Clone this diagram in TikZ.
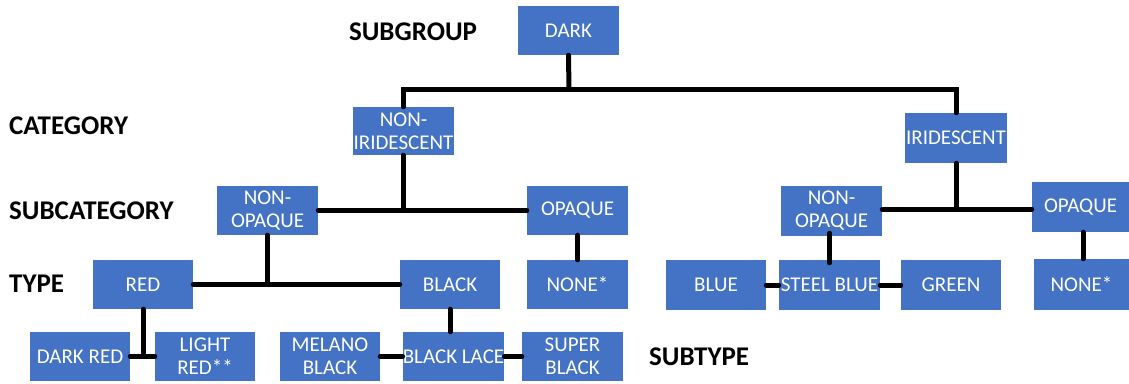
\documentclass[tikz,border=0pt]{standalone}
\usepackage{fontspec}
\setmainfont{Carlito}
\definecolor{boxblue}{HTML}{4472C4}
\begin{document}
\begin{tikzpicture}[x=1pt, y=-1pt,
  box/.style={fill=boxblue, text=white, inner sep=0pt, align=center,
    minimum width=101pt, minimum height=49pt,
    font=\fontsize{21}{23}\selectfont},
  level/.style={anchor=west, inner sep=0pt, font=\fontsize{27}{30}\selectfont\bfseries},
  link/.style={line width=5pt, line cap=round}]
\useasboundingbox (0,0) rectangle (1129,383);

% level labels
\node[level, anchor=center] (lsubgroup) at (413,32) {SUBGROUP};
\node[level] (lcategory) at (9,126) {CATEGORY};
\node[level] (lsubcategory) at (9,211) {SUBCATEGORY};
\node[level] (ltype) at (9,284) {TYPE};
\node[level] (lsubtype) at (649,357) {SUBTYPE};

% subgroup and categories
\node[box] (dark) at (568.5,30.5) {DARK};
\node[box, minimum height=48pt] (noniri) at (403.5,131) {NON-\\IRIDESCENT};
\node[box, minimum width=102pt, minimum height=50pt] (iri) at (956,138) {IRIDESCENT};

% subcategories
\node[box] (nop1) at (267.5,210.5) {NON-\\OPAQUE};
\node[box] (op1) at (577.5,210.5) {OPAQUE};
\node[box, minimum height=50pt] (nop2) at (831.5,211) {NON-\\OPAQUE};
\node[box, minimum width=97pt, minimum height=50pt] (op2) at (1080.5,207) {OPAQUE};

% types
\node[box, minimum width=100pt] (red) at (143,284.5) {RED};
\node[box, minimum width=100pt] (black) at (450,284.5) {BLACK};
\node[box] (none1) at (577.5,284.5) {NONE*};
\node[box, minimum width=100pt, minimum height=50pt] (blue) at (716,285) {BLUE};
\node[box, minimum height=50pt] (steel) at (829.5,285) {STEEL BLUE};
\node[box, minimum width=100pt, minimum height=50pt] (green) at (951,285) {GREEN};
\node[box, minimum width=95pt, minimum height=51pt] (none2) at (1081.5,284.5) {NONE*};

% subtypes
\node[box, minimum width=100pt] (dred) at (80,356.5) {DARK RED};
\node[box, minimum width=100pt] (lred) at (205,356.5) {LIGHT\\RED**};
\node[box, minimum width=100pt] (melano) at (330,356.5) {MELANO\\BLACK};
\node[box, minimum width=99pt] (blace) at (453.5,356.5) {BLACK LACE};
\node[box] (sblack) at (572.5,356.5) {SUPER\\BLACK};

% junction points
\coordinate (topbar) at (569,89);
\coordinate (iribar) at (956,209);

% connectors
\draw[link] (dark.south) -- (topbar);
\draw[link] (noniri.north) |- (topbar) -| (iri.north);

\draw[link] (noniri.south) -- (noniri.south |- nop1.east);
\draw[link] (nop1.east) -- (op1.west);
\draw[link] (iri.south) -- (iribar);
\draw[link] (nop2.east |- iribar) -- (op2.west |- iribar);

\draw[link] (nop1.south) -- (nop1.south |- red.east);
\draw[link] (red.east) -- (black.west);
\draw[link] (op1.south) -- (none1.north);
\draw[link] ([yshift=3pt]nop2.south -| steel.north) -- ([yshift=-3pt]steel.north);
\draw[link] ([xshift=1.5pt]op2.south -| none2.north) -- ([xshift=1.5pt]none2.north);
\draw[link] (blue.east) -- (steel.west);
\draw[link] (steel.east) -- (green.west);

\draw[link] (red.south) -- (red.south |- dred.east);
\draw[link] (dred.east) -- (lred.west);
\draw[link] (black.south) -- (black.south |- blace.north);
\draw[link] (melano.east) -- (blace.west);
\draw[link] (blace.east) -- (sblack.west);
\end{tikzpicture}
\end{document}
